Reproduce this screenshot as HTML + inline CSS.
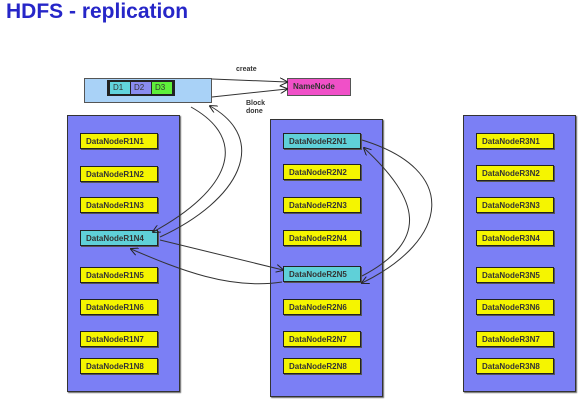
<!DOCTYPE html>
<html><head><style>
body{margin:0;width:585px;height:401px;background:#fff;position:relative;overflow:hidden;font-family:"Liberation Sans",Arial,sans-serif}
.t{position:absolute;left:6px;top:0px;font-size:21px;font-weight:bold;color:#2626c8}
.rack{position:absolute;background:#7b7ff5;border:1px solid #333;box-shadow:1px 1px 1px #666}
.n{position:absolute;width:78px;height:16px;border:1px solid #222;background:#f5f500;font-size:8px;font-weight:bold;color:#333;line-height:16px;padding-left:5px;box-sizing:border-box;box-shadow:1px 1px 0 #555}
.c{background:#5fd0d8}
</style></head><body>
<div class="t">HDFS - replication</div>
<div style="position:absolute;left:84px;top:78px;width:128px;height:25px;background:#a9d2f7;border:1px solid #555;box-sizing:border-box"></div>
<div style="position:absolute;left:107px;top:80px;width:68px;height:16px;background:#222"></div>
<div style="position:absolute;left:110px;top:82px;width:20px;height:12px;background:#62d4dc;font-size:8px;color:#333;line-height:12px;padding-left:3px;box-sizing:border-box">D1</div>
<div style="position:absolute;left:131px;top:82px;width:20px;height:12px;background:#8a8cf0;font-size:8px;color:#333;line-height:12px;padding-left:3px;box-sizing:border-box">D2</div>
<div style="position:absolute;left:152px;top:82px;width:20px;height:12px;background:#5ef03a;font-size:8px;color:#333;line-height:12px;padding-left:3px;box-sizing:border-box">D3</div>
<div style="position:absolute;left:287px;top:78px;width:64px;height:18px;background:#f050c8;border:1px solid #555;box-sizing:border-box;font-size:8px;font-weight:bold;color:#333;line-height:16px;padding-left:5px">NameNode</div>
<div style="position:absolute;left:236px;top:66px;font-size:7px;font-weight:bold;color:#333">create</div>
<div style="position:absolute;left:246px;top:100px;font-size:7px;font-weight:bold;color:#333;line-height:8px">Block<br>done</div>

<div class="rack" style="left:67px;top:115px;width:111px;height:275px"></div>
<div class="rack" style="left:270px;top:119px;width:111px;height:276px"></div>
<div class="rack" style="left:463px;top:115px;width:111px;height:275px"></div>

<div class="n" style="left:80px;top:133px">DataNodeR1N1</div>
<div class="n" style="left:80px;top:166px">DataNodeR1N2</div>
<div class="n" style="left:80px;top:197px">DataNodeR1N3</div>
<div class="n c" style="left:80px;top:230px">DataNodeR1N4</div>
<div class="n" style="left:80px;top:267px">DataNodeR1N5</div>
<div class="n" style="left:80px;top:299px">DataNodeR1N6</div>
<div class="n" style="left:80px;top:331px">DataNodeR1N7</div>
<div class="n" style="left:80px;top:358px">DataNodeR1N8</div>

<div class="n c" style="left:283px;top:133px">DataNodeR2N1</div>
<div class="n" style="left:283px;top:164px">DataNodeR2N2</div>
<div class="n" style="left:283px;top:197px">DataNodeR2N3</div>
<div class="n" style="left:283px;top:230px">DataNodeR2N4</div>
<div class="n c" style="left:283px;top:266px">DataNodeR2N5</div>
<div class="n" style="left:283px;top:299px">DataNodeR2N6</div>
<div class="n" style="left:283px;top:331px">DataNodeR2N7</div>
<div class="n" style="left:283px;top:358px">DataNodeR2N8</div>

<div class="n" style="left:476px;top:133px">DataNodeR3N1</div>
<div class="n" style="left:476px;top:165px">DataNodeR3N2</div>
<div class="n" style="left:476px;top:197px">DataNodeR3N3</div>
<div class="n" style="left:476px;top:230px">DataNodeR3N4</div>
<div class="n" style="left:476px;top:267px">DataNodeR3N5</div>
<div class="n" style="left:476px;top:299px">DataNodeR3N6</div>
<div class="n" style="left:476px;top:331px">DataNodeR3N7</div>
<div class="n" style="left:476px;top:358px">DataNodeR3N8</div>

<svg width="585" height="401" style="position:absolute;left:0;top:0">
<defs><marker id="a" markerWidth="8" markerHeight="8" refX="7" refY="4" orient="auto" markerUnits="userSpaceOnUse"><path d="M0,0 L8,4 L0,8" fill="none" stroke="#222" stroke-width="1"/></marker></defs>
<g fill="none" stroke="#333" stroke-width="1" marker-end="url(#a)">
<path d="M212,79 L287,82"/>
<path d="M212,97 L287,89"/>
<path d="M191,107 C250,140 230,190 153,232"/>
<path d="M160,237 C240,200 270,140 210,106"/>
<path d="M160,240 L283,270"/>
<path d="M282,282 C230,290 180,270 131,249"/>
<path d="M362,140 C460,170 450,240 362,283"/>
<path d="M362,276 C430,240 420,200 364,148"/>
</g>
</svg>
</body></html>
